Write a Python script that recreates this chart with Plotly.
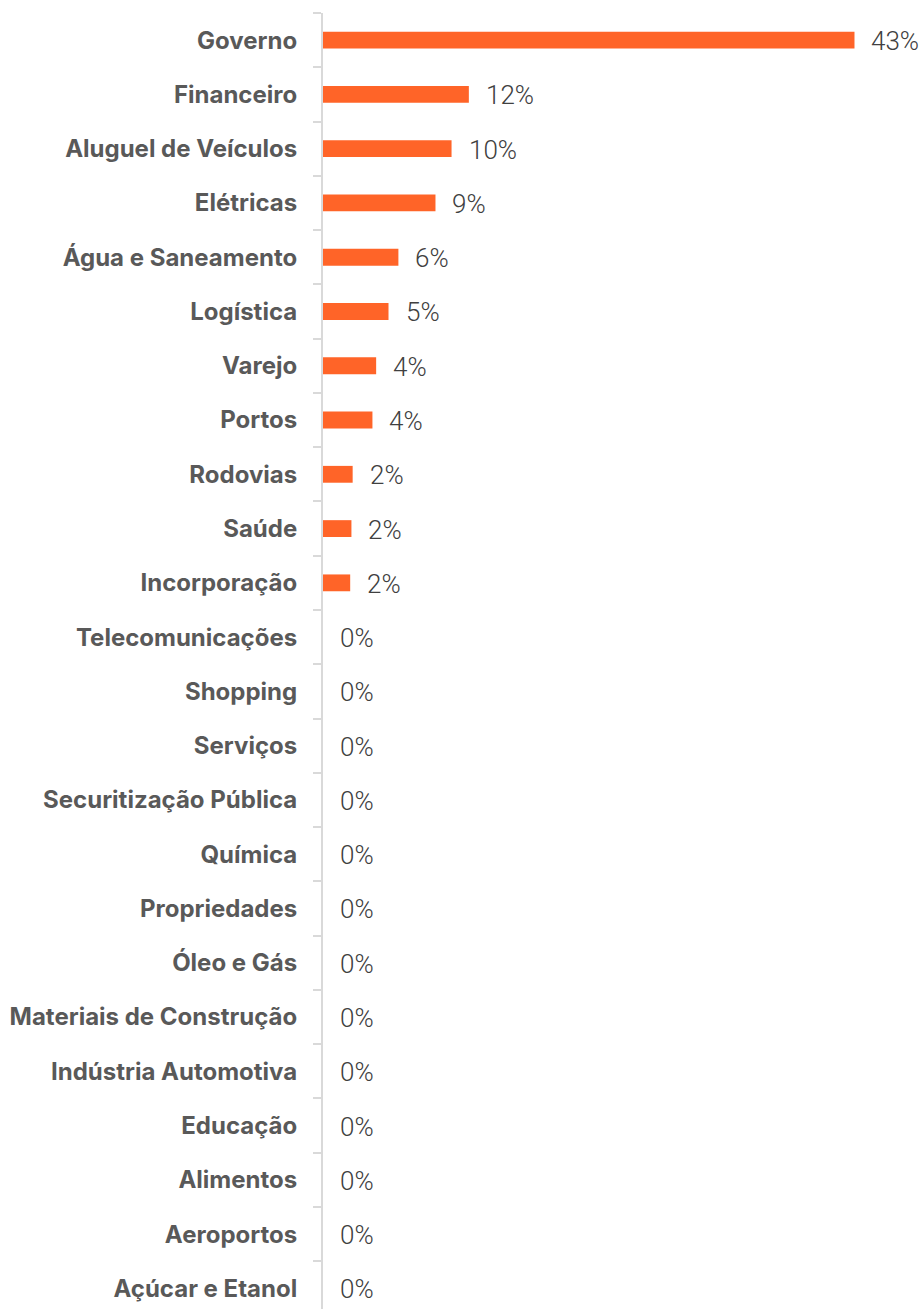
import plotly.graph_objects as go

categories = ["Governo", "Financeiro", "Aluguel de Veículos", "Elétricas", "Água e Saneamento",
              "Logística", "Varejo", "Portos", "Rodovias", "Saúde", "Incorporação",
              "Telecomunicações", "Shopping", "Serviços", "Securitização Pública", "Química",
              "Propriedades", "Óleo e Gás", "Materiais de Construção", "Indústria Automotiva",
              "Educação", "Alimentos", "Aeroportos", "Açúcar e Etanol"]
values = [43.0, 11.8, 10.4, 9.1, 6.1, 5.3, 4.3, 4.0, 2.4, 2.3, 2.2,
          0, 0, 0, 0, 0, 0, 0, 0, 0, 0, 0, 0, 0]
labels = [f"{round(v):.0f}%" for v in values]

BAR = "#FF6428"

fig = go.Figure(go.Bar(
    x=values, y=categories, orientation="h",
    marker=dict(color=BAR, line=dict(width=0)),
    width=0.31, hoverinfo="skip",
))

for c, v, t in zip(categories, values, labels):
    fig.add_annotation(x=v, y=c, text=t, showarrow=False, xanchor="left", yanchor="middle",
                       xshift=15, yshift=-1,
                       font=dict(family="Roboto", size=26, color="#404040", weight=300))

fig.update_layout(
    width=920, height=1309,
    margin=dict(l=323, r=0, t=13, b=0),
    paper_bgcolor="white", plot_bgcolor="white",
    showlegend=False,
    xaxis=dict(range=[0, 48.3], visible=False, showgrid=False, zeroline=False),
    yaxis=dict(type="category", categoryorder="array", categoryarray=categories,
               range=[23.38, -0.5], showline=True, linecolor="#D9D9D9", linewidth=2,
               ticks="outside", ticklen=8, tickcolor="#D9D9D9", tickwidth=2,
               tickson="boundaries", showgrid=False, ticklabelstandoff=19,
               tickfont=dict(family="Inter", size=24, color="#595959", weight="bold")),
)

fig.write_html("out.html")
